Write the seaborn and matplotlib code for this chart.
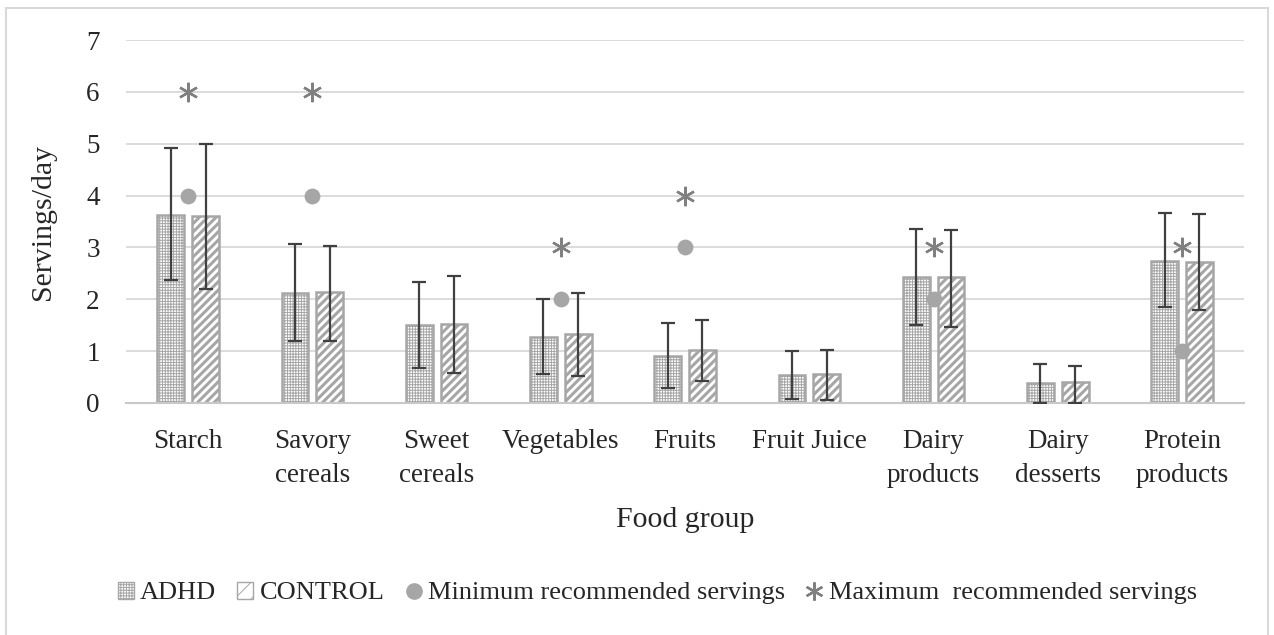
import numpy as np
import pandas as pd
import matplotlib
matplotlib.use('Agg')
import matplotlib.pyplot as plt
import seaborn as sns
from matplotlib.patches import Rectangle
from matplotlib.lines import Line2D

# data
food_groups = ['Starch', 'Savory\ncereals', 'Sweet\ncereals', 'Vegetables', 'Fruits',
               'Fruit Juice', 'Dairy\nproducts', 'Dairy\ndesserts', 'Protein\nproducts']
adhd_mean = [3.62, 2.12, 1.50, 1.28, 0.90, 0.53, 2.42, 0.38, 2.73]
adhd_low = [2.38, 1.20, 0.68, 0.56, 0.28, 0.08, 1.50, 0.00, 1.85]
adhd_high = [4.92, 3.06, 2.34, 2.00, 1.55, 1.00, 3.35, 0.75, 3.67]
control_mean = [3.60, 2.14, 1.52, 1.33, 1.02, 0.56, 2.42, 0.40, 2.72]
control_low = [2.20, 1.20, 0.58, 0.52, 0.43, 0.06, 1.47, 0.00, 1.80]
control_high = [5.00, 3.03, 2.44, 2.13, 1.60, 1.03, 3.34, 0.72, 3.65]
min_servings = [4, 4, np.nan, 2, 3, np.nan, 2, np.nan, 1]
max_servings = [6, 6, np.nan, 3, 4, np.nan, 3, np.nan, 3]

groups = ['ADHD', 'CONTROL']

df = pd.DataFrame({
    'Food group': food_groups * 2,
    'Group': ['ADHD'] * 9 + ['CONTROL'] * 9,
    'Servings': adhd_mean + control_mean,
})

sns.set_style('white')
plt.rcParams['font.family'] = ['Liberation Serif', 'DejaVu Serif']
plt.rcParams['hatch.linewidth'] = 0.7

grey = '#A6A6A6'
star_grey = '#808080'
fs = 19.5
fig = plt.figure(figsize=(12.74, 6.35), dpi=100)
ax = fig.add_axes([0.099, 0.3654, 0.8775, 0.5716])

sns.barplot(data=df, x='Food group', y='Servings', hue='Group', hue_order=groups,
            palette=['white', 'white'], width=0.56, gap=0.23, edgecolor=grey,
            linewidth=1.8, legend=False, ax=ax)

# hatches + error bars
hatches = {'ADHD': '++++++', 'CONTROL': '////'}
bars = ax.patches
for i, p in enumerate(bars):
    g = groups[i // 9]
    p.set_hatch(hatches[g])
    if g == 'CONTROL' and hasattr(p, 'set_hatch_linewidth'):
        p.set_hatch_linewidth(2.2)

for gi, (mean, low, high) in enumerate([(adhd_mean, adhd_low, adhd_high),
                                        (control_mean, control_low, control_high)]):
    xs = [p.get_x() + p.get_width() / 2 for p in bars[gi * 9:(gi + 1) * 9]]
    mean = np.array(mean)
    yerr = [mean - np.array(low), np.array(high) - mean]
    ax.errorbar(xs, mean, yerr=yerr, fmt='none', ecolor='#404040', elinewidth=1.6,
                capsize=4.8, capthick=1.6, zorder=4)

xpos = np.arange(len(food_groups))
ax.scatter(xpos, min_servings, s=130, color=grey, zorder=5, linewidths=0)
ax.plot(xpos, max_servings, linestyle='none', marker=(6, 2, 0), markersize=14,
        markeredgewidth=1.7, color=star_grey, zorder=5)

ax.set_ylim(0, 7)
ax.set_xlim(-0.5, 8.5)
ax.set_yticks(range(0, 8))
ax.yaxis.grid(True, color='#D9D9D9', linewidth=1.3)
ax.set_axisbelow(True)
for s in ['top', 'right', 'left']:
    ax.spines[s].set_visible(False)
ax.spines['bottom'].set_color('#C8C8C8')
ax.spines['bottom'].set_linewidth(1.5)
ax.tick_params(axis='y', length=0, pad=19, labelsize=fs)
ax.tick_params(axis='x', length=0, pad=19, labelsize=fs)
for t in ax.get_xticklabels():
    t.set_linespacing(1.45)
ax.set_xlabel('Food group', fontsize=21.5, labelpad=14)
ax.set_ylabel('Servings/day', fontsize=21.5, labelpad=22)

handles = [
    Rectangle((0, 0), 1, 1, facecolor='white', edgecolor=grey, hatch='++++++'),
    Rectangle((0, 0), 1, 1, facecolor='white', edgecolor=grey, hatch='//'),
    Line2D([], [], linestyle='none', marker='o', markersize=11, color=grey),
    Line2D([], [], linestyle='none', marker=(6, 2, 0), markersize=13,
           markeredgewidth=1.7, color=star_grey),
]
labels = ['ADHD', 'CONTROL', 'Minimum recommended servings', 'Maximum  recommended servings']
fig.legend(handles, labels, loc='center', bbox_to_anchor=(0.516, 0.066), ncol=4,
           frameon=False, fontsize=19, handlelength=0.6, handleheight=0.6,
           handletextpad=0.25, columnspacing=0.8)

fig.patches.append(Rectangle((0.005, -0.01), 0.99, 0.997, transform=fig.transFigure,
                             fill=False, edgecolor='#D9D9D9', linewidth=1.5))

fig.savefig('out.png', dpi=100)
